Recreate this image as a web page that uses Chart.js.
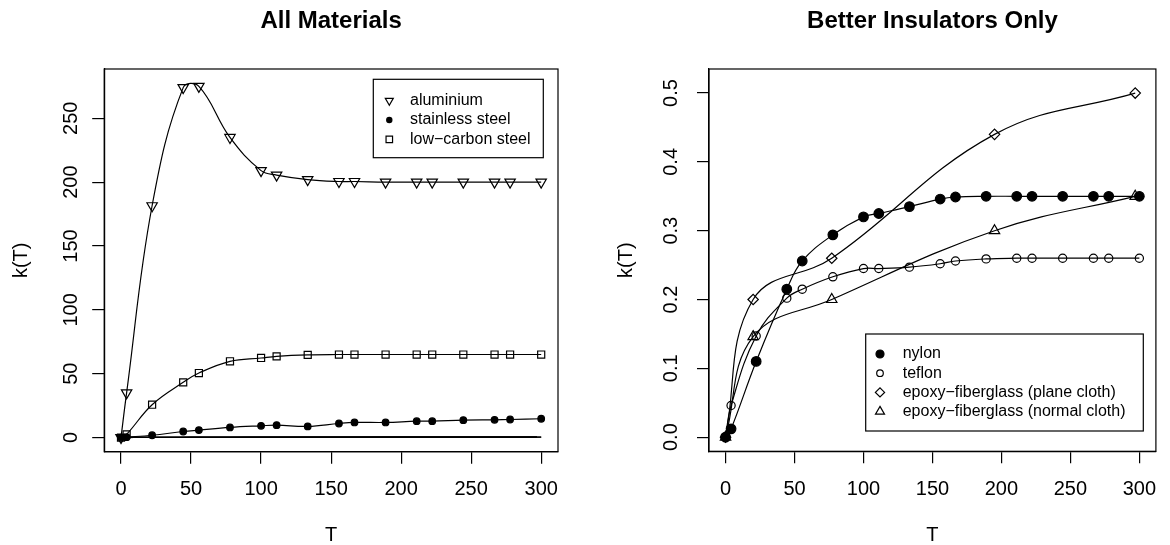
<!DOCTYPE html>
<html>
<head>
<meta charset="utf-8">
<script src="https://cdn.jsdelivr.net/npm/chart.js@4.4.1/dist/chart.umd.min.js"></script>
<style>
  html, body { margin: 0; padding: 0; background: #fff; }
  .panel { position: absolute; top: 0; width: 585px; height: 545px; }
  #left { left: 0; }
  #right { left: 585px; }
</style>
</head>
<body>
<div class="panel" id="left"><canvas id="chartAll" width="585" height="545"></canvas></div>
<div class="panel" id="right"><canvas id="chartIns" width="585" height="545"></canvas></div>
<script>
"use strict";

///////////////////////////////////////
// Data

const temps = [0, 4, 22.2, 44.4, 55.6, 77.8, 100, 111.1, 133.3, 155.6, 166.7, 188.9, 211.1, 222.2, 244.4, 266.7, 277.8, 300];
const aluminium = [0, 35, 181.5, 274, 275, 235, 209, 205.5, 202, 200.5, 200.5, 200, 200, 200, 200, 200, 200, 200];
const stainlessSteel = [0, 0.3, 1.8, 4.7, 5.8, 7.9, 9.2, 9.7, 8.7, 11, 11.8, 11.8, 12.8, 12.8, 13.6, 13.9, 14.1, 14.7];
const lowCarbonSteel = [0, 2.5, 25.7, 43.2, 50.5, 59.7, 62.3, 63.6, 64.7, 65, 65, 65, 65, 65, 65, 65, 65, 65];

const nylon = [0, 0.012, 0.11, 0.215, 0.256, 0.294, 0.32, 0.325, 0.335, 0.346, 0.349, 0.35, 0.35, 0.35, 0.35, 0.35, 0.35, 0.35];
const teflon = [0, 0.046, 0.147, 0.202, 0.215, 0.233, 0.245, 0.245, 0.247, 0.252, 0.256, 0.259, 0.26, 0.26, 0.26, 0.26, 0.26, 0.26];

const epoxyTemps = [0, 20, 77, 195, 297];
const epoxyPlane = [0, 0.2, 0.26, 0.44, 0.5];
const epoxyNormal = [0, 0.146, 0.2, 0.3, 0.35];

const xTicks = [0, 50, 100, 150, 200, 250, 300];
const yTicksAll = [0, 50, 100, 150, 200, 250];
const yTicksIns = [0, 0.1, 0.2, 0.3, 0.4, 0.5];
const yTickLabelsIns = ["0.0", "0.1", "0.2", "0.3", "0.4", "0.5"];

///////////////////////////////////////
// Helpers

const FONT = "'Liberation Sans', Arial, Helvetica, sans-serif";
const LW = 1.2;

const toPoints = function (xs, ys) {
  return xs.map((x, i) => ({ x: x, y: ys[i] }));
};

const series = function (label, xs, ys, marker) {
  return Object.assign(
    {
      label: label,
      data: toPoints(xs, ys),
      borderColor: "#000",
      borderWidth: LW,
      tension: 0.4,
      pointBorderColor: "#000",
      pointBorderWidth: LW,
      pointBackgroundColor: "rgba(0,0,0,0)",
      pointStyle: "circle",
      pointRadius: 0,
    },
    marker || {}
  );
};

// R style frame, centred main title and boxed legend
const rFrame = {
  id: "rFrame",
  afterDraw(chart, args, opts) {
    const ctx = chart.ctx;
    const a = chart.chartArea;
    ctx.save();
    ctx.strokeStyle = "#000";
    ctx.lineWidth = LW;
    ctx.strokeRect(a.left, a.top, a.right - a.left, a.bottom - a.top);

    ctx.fillStyle = "#000";
    ctx.font = "bold 24px " + FONT;
    ctx.textAlign = "center";
    ctx.textBaseline = "middle";
    ctx.fillText(opts.title, (a.left + a.right) / 2, 21);

    const lg = opts.legend;
    ctx.strokeRect(lg.x, lg.y, lg.w, lg.h);
    ctx.font = "16px " + FONT;
    ctx.textAlign = "left";
    lg.items.forEach((idx, i) => {
      const ds = chart.data.datasets[idx];
      const y = lg.row0 + i * lg.gap;
      ctx.fillStyle = ds.pointBackgroundColor;
      ctx.strokeStyle = "#000";
      ctx.lineWidth = LW;
      Chart.helpers.drawPoint(ctx, {
        pointStyle: ds.pointStyle,
        rotation: ds.pointRotation || 0,
        radius: lg.radii[i],
        borderWidth: LW,
      }, lg.symbolX, y);
      ctx.fillStyle = "#000";
      ctx.fillText(ds.label, lg.textX, y);
    });
    ctx.restore();
  },
};

const xScale = function (height) {
  return {
    type: "linear",
    min: -12,
    max: 312,
    afterBuildTicks: (s) => { s.ticks = xTicks.map((v) => ({ value: v })); },
    afterFit: (s) => { s.height = height; },
    grid: { drawOnChartArea: false, drawTicks: true, tickLength: 12, color: "#000", lineWidth: LW },
    border: { display: true, color: "#000", width: LW },
    ticks: { color: "#000", font: { size: 20, family: FONT }, padding: 13.7, minRotation: 0, maxRotation: 0, autoSkip: false },
    title: { display: true, text: "T", color: "#000", font: { size: 20, family: FONT, lineHeight: 1 }, padding: { top: 0, bottom: 0 } },
  };
};

const yScale = function (min, max, ticks, labels, width, tickPad, titlePad) {
  return {
    type: "linear",
    min: min,
    max: max,
    afterBuildTicks: (s) => { s.ticks = ticks.map((v) => ({ value: v })); },
    afterFit: (s) => { s.width = width; },
    grid: { drawOnChartArea: false, drawTicks: true, tickLength: 12, color: "#000", lineWidth: LW },
    border: { display: true, color: "#000", width: LW },
    ticks: {
      color: "#000",
      font: { size: 20, family: FONT },
      padding: tickPad,
      minRotation: 90,
      maxRotation: 90,
      crossAlign: "center",
      autoSkip: false,
      callback: (v) => labels[ticks.indexOf(v)],
    },
    title: { display: true, text: "k(T)", color: "#000", font: { size: 20, family: FONT, lineHeight: 1 }, padding: { top: titlePad, bottom: 0 } },
  };
};

///////////////////////////////////////
// All materials

new Chart(document.getElementById("chartAll"), {
  type: "line",
  data: {
    datasets: [
      series("aluminium", temps, aluminium, { pointStyle: "triangle", pointRotation: 180, pointRadius: 6 }),
      series("stainless steel", temps, stainlessSteel, { pointStyle: "circle", pointRadius: 3.3, pointBackgroundColor: "#000" }),
      series("low\u2212carbon steel", temps, lowCarbonSteel, { pointStyle: "rect", pointRadius: 5 }),
      series("nylon", temps, nylon),
      series("teflon", temps, teflon),
      series("epoxy\u2212fiberglass (plane cloth)", epoxyTemps, epoxyPlane),
      series("epoxy\u2212fiberglass (normal cloth)", epoxyTemps, epoxyNormal),
    ],
  },
  options: {
    responsive: false,
    animation: false,
    layout: { padding: { top: 69, right: 27, bottom: 0, left: 0 } },
    scales: {
      x: xScale(93.3),
      y: yScale(-11.1, 288.6, yTicksAll, yTicksAll.map(String), 104.2, 3.8, 11.7),
    },
    plugins: {
      legend: { display: false },
      tooltip: { enabled: false },
      rFrame: {
        title: "All Materials",
        legend: {
          x: 373.3, y: 79.3, w: 170, h: 78.4,
          symbolX: 389.3, textX: 410, row0: 100.7, gap: 19.3,
          items: [0, 1, 2],
          radii: [4.6, 2.6, 4.6],
        },
      },
    },
  },
  plugins: [rFrame],
});

///////////////////////////////////////
// Better insulators

new Chart(document.getElementById("chartIns"), {
  type: "line",
  data: {
    datasets: [
      series("nylon", temps, nylon, { pointStyle: "circle", pointRadius: 4.8, pointBackgroundColor: "#000" }),
      series("teflon", temps, teflon, { pointStyle: "circle", pointRadius: 4.1 }),
      series("epoxy\u2212fiberglass (plane cloth)", epoxyTemps, epoxyPlane, { pointStyle: "rectRot", pointRadius: 5.2 }),
      series("epoxy\u2212fiberglass (normal cloth)", epoxyTemps, epoxyNormal, { pointStyle: "triangle", pointRadius: 6 }),
    ],
  },
  options: {
    responsive: false,
    animation: false,
    layout: { padding: { top: 69, right: 6.5, bottom: 0, left: 0 } },
    scales: {
      x: xScale(93.7),
      y: yScale(-0.0206, 0.535, yTicksIns, yTickLabelsIns, 124, 11.6, 31.7),
    },
    plugins: {
      legend: { display: false },
      tooltip: { enabled: false },
      rFrame: {
        title: "Better Insulators Only",
        legend: {
          x: 280.7, y: 334, w: 277.6, h: 97,
          symbolX: 295, textX: 317.7, row0: 354, gap: 19.2,
          items: [0, 1, 2, 3],
          radii: [4, 3.3, 4.6, 5.2],
        },
      },
    },
  },
  plugins: [rFrame],
});
</script>
</body>
</html>
